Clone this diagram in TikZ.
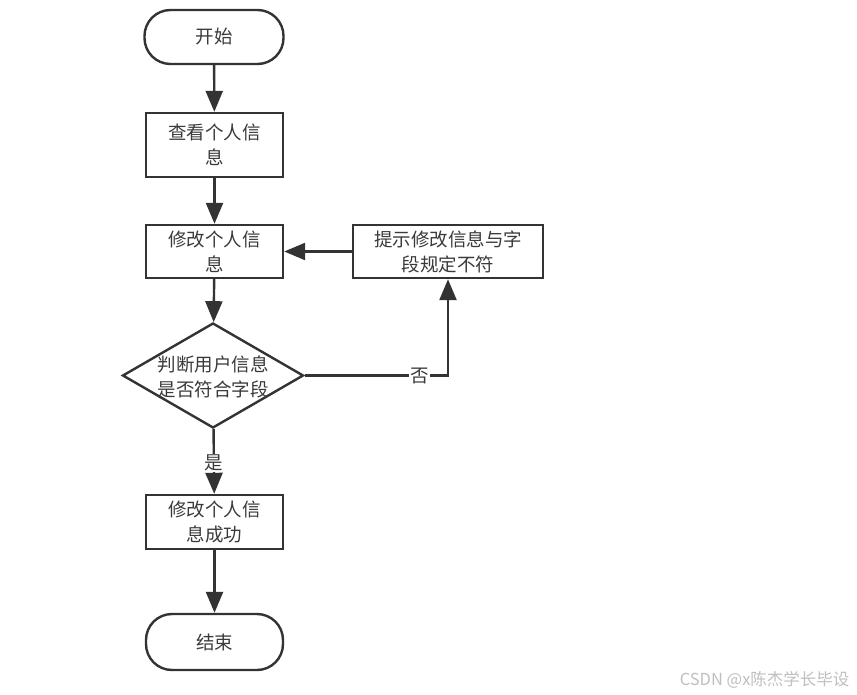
\documentclass[tikz,border=0pt]{standalone}
\usepackage{fontspec}
\setmainfont{Noto Sans CJK SC}
\usetikzlibrary{arrows.meta,shapes.geometric}
\definecolor{ln}{HTML}{333333}
\definecolor{tx}{HTML}{3A3A3A}
\begin{document}
\begin{tikzpicture}[x=1pt,y=-1pt,
  every node/.style={font=\fontsize{18.5}{25}\selectfont, text=tx},
  term/.style={draw=ln, line width=2.4pt, rounded corners=26pt, minimum width=139pt, minimum height=54pt, inner sep=0pt, fill=white},
  proc/.style={draw=ln, line width=2.4pt, minimum width=137pt, inner sep=0pt, align=center, fill=white},
  dec/.style={draw=ln, line width=2.4pt, diamond, minimum width=181pt, minimum height=105pt, inner sep=0pt},
  flow/.style={draw=ln, line width=2.4pt, -{Triangle[length=21pt,width=17pt]}},
  lbl/.style={fill=white, inner sep=1pt}
]
\useasboundingbox (0,0) rectangle (857,695);
\fill[white] (0,0) rectangle (857,695);

\node[term] (start) at (214,37) {开始};
\node[proc, minimum height=64pt] (view) at (214.5,145) {查看个人信\\息};
\node[proc, minimum height=53pt] (edit) at (214.5,251.5) {修改个人信\\息};
\node[proc, minimum width=190pt, minimum height=53pt] (tip) at (448,251.5) {提示修改信息与字\\段规定不符};
\node[dec] (chk) at (213,375.5) {};
\node[align=center] (chktxt) at (213,377) {判断用户信息\\是否符合字段};
\node[proc, minimum height=54pt] (ok) at (214.5,522) {修改个人信\\息成功};
\node[term, minimum width=137pt, minimum height=56pt] (end) at (214.5,642) {结束};

\draw[flow] (start) -- (view);
\draw[flow] (view) -- (edit);
\draw[flow] (edit) -- (chk);
\draw[flow] (chk) -- node[lbl, pos=0.52] (yes) {是} (ok);
\draw[flow] (ok) -- (end);
\draw[flow] (chk.east) -| node[lbl, pos=0.4] (no) {否} (tip.south);
\draw[flow] (tip) -- (edit);

\node[anchor=east, text=black!25, font=\fontsize{16.5}{18}\selectfont] (wm) at (853,680) {CSDN @x陈杰学长毕设};
\end{tikzpicture}
\end{document}
